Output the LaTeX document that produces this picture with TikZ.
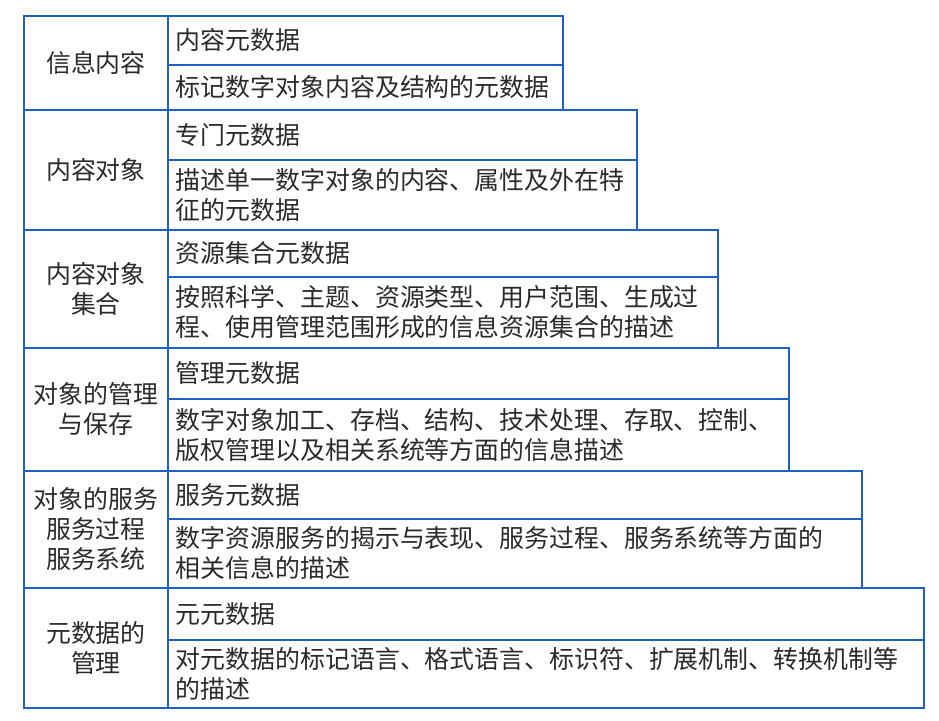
\documentclass[tikz,border=0pt]{standalone}
\usepackage{fontspec}
\usepackage{xcolor}
\usepackage{tikz}
\newfontfamily\cjk{Noto Sans CJK SC}
\definecolor{rule}{HTML}{1F5FC8}
\definecolor{ink}{HTML}{2A2A2A}

\begin{document}
\begin{tikzpicture}[x=1pt, y=-1pt,
        cat/.style={draw=rule, line width=1.8pt, rectangle, anchor=north west, minimum width=144pt, text width=136pt, inner xsep=4pt, align=center, font=\cjk\fontsize{24.9}{30}\selectfont, text=ink},
        head/.style={draw=rule, line width=1.8pt, rectangle, anchor=north west, inner xsep=8pt, align=left, font=\cjk\fontsize{24.9}{30}\selectfont, text=ink},
        desc/.style={head}
    ]
    \useasboundingbox (0,0) rectangle (939,720);

    % Row 1: information content
    \node[cat, minimum height=94pt] (cat1) at (23,15) {信息内容};
    \node[head, text width=379pt, minimum height=49pt] (head1) at (167,15) {内容元数据};
    \node[desc, text width=379pt, minimum height=45pt] (desc1) at (167,64) {标记数字对象内容及结构的元数据};

    % Row 2: content object
    \node[cat, minimum height=120pt] (cat2) at (23,109) {内容对象};
    \node[head, text width=453pt, minimum height=50pt] (head2) at (167,109) {专门元数据};
    \node[desc, text width=453pt, minimum height=70pt] (desc2) at (167,159) {描述单一数字对象的内容、属性及外在特\\征的元数据};

    % Row 3: content object set
    \node[cat, minimum height=118pt] (cat3) at (23,229) {内容对象\\集合};
    \node[head, text width=534pt, minimum height=47pt] (head3) at (167,229) {资源集合元数据};
    \node[desc, text width=534pt, minimum height=71pt] (desc3) at (167,276) {按照科学、主题、资源类型、用户范围、生成过\\程、使用管理范围形成的信息资源集合的描述};

    % Row 4: management and preservation
    \node[cat, minimum height=123pt] (cat4) at (23,347) {对象的管理\\与保存};
    \node[head, text width=605pt, minimum height=51pt] (head4) at (167,347) {管理元数据};
    \node[desc, text width=605pt, minimum height=72pt] (desc4) at (167,398) {数字对象加工、存档、结构、技术处理、存取、控制、\\版权管理以及相关系统等方面的信息描述};

    % Row 5: services
    \node[cat, minimum height=117pt] (cat5) at (23,470) {对象的服务\\服务过程\\服务系统};
    \node[head, text width=678pt, minimum height=48pt] (head5) at (167,470) {服务元数据};
    \node[desc, text width=678pt, minimum height=69pt] (desc5) at (167,518) {数字资源服务的揭示与表现、服务过程、服务系统等方面的\\相关信息的描述};

    % Row 6: metadata management
    \node[cat, minimum height=120pt] (cat6) at (23,587) {元数据的\\管理};
    \node[head, text width=740pt, minimum height=52pt] (head6) at (167,587) {元元数据};
    \node[desc, text width=740pt, minimum height=68pt] (desc6) at (167,639) {对元数据的标记语言、格式语言、标识符、扩展机制、转换机制等\\的描述};

    \end{tikzpicture}
\end{document}
